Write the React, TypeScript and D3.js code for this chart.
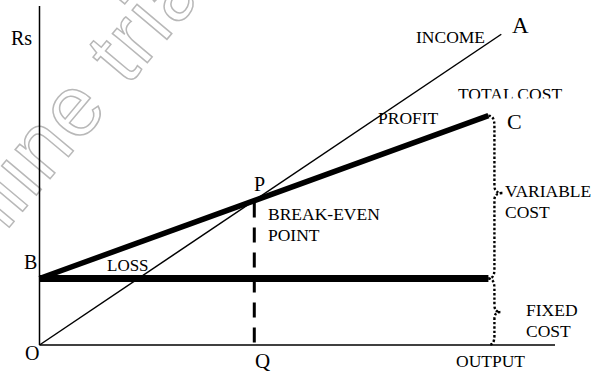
import * as d3 from 'd3';
import { useRef, useEffect } from 'react';

// break-even chart values (output units on x, Rs on y)
const outputDomain = [0, 120];
const rsDomain = [0, 102];
const incomeLine: [number, number][] = [[0, 0], [107.5, 93.5]];
const totalCostLine: [number, number][] = [[0, 20], [104.5, 69]];
const fixedCostLine: [number, number][] = [[0, 20], [104.5, 20]];
const breakEven: [number, number] = [50, 43.5];

export default function App() {
  const ref = useRef<SVGSVGElement>(null);

  useEffect(() => {
    const width = 593;
    const height = 373;
    const margin = { top: 6, right: 38, bottom: 28, left: 39.5 };

    const x = d3.scaleLinear()
      .domain(outputDomain)
      .range([margin.left, width - margin.right]);

    const y = d3.scaleLinear()
      .domain(rsDomain)
      .range([height - margin.bottom, margin.top]);

    const svg = d3.select(ref.current)
      .attr('width', width)
      .attr('height', height)
      .attr('viewBox', `0 0 ${width} ${height}`)
      .style('font-family', "'Liberation Serif', serif");

    svg.selectAll('*').remove();

    svg.append('rect').attr('width', width).attr('height', height).attr('fill', '#fff');

    // watermark (outlined, runs off the top-left corner like the original)
    svg.append('text')
      .attr('transform', 'translate(-45,292) rotate(-50)')
      .attr('font-family', "'Liberation Sans', sans-serif")
      .attr('font-size', 86)
      .attr('letter-spacing', 2)
      .attr('fill', 'none')
      .attr('stroke', '#b8b8b8')
      .attr('stroke-width', 1.5)
      .text('online trial');

    const line = d3.line<[number, number]>()
      .x(d => x(d[0]))
      .y(d => y(d[1]));

    // axes
    svg.append('line')
      .attr('x1', x(0)).attr('x2', x(0))
      .attr('y1', y(0)).attr('y2', y(rsDomain[1]))
      .attr('stroke', '#000').attr('stroke-width', 1.5);
    svg.append('line')
      .attr('x1', x(0)).attr('x2', x(outputDomain[1]))
      .attr('y1', y(0)).attr('y2', y(0))
      .attr('stroke', '#000').attr('stroke-width', 1.5);

    // income, total cost, fixed cost
    svg.append('path').attr('d', line(incomeLine))
      .attr('fill', 'none').attr('stroke', '#000').attr('stroke-width', 1.5);
    svg.append('path').attr('d', line(totalCostLine))
      .attr('fill', 'none').attr('stroke', '#000').attr('stroke-width', 5.5);
    svg.append('path').attr('d', line(fixedCostLine))
      .attr('fill', 'none').attr('stroke', '#000').attr('stroke-width', 7);

    // break-even drop line
    svg.append('line')
      .attr('x1', x(breakEven[0])).attr('x2', x(breakEven[0]))
      .attr('y1', y(breakEven[1]) + 2).attr('y2', y(0))
      .attr('stroke', '#000').attr('stroke-width', 3)
      .attr('stroke-dasharray', '15,10');

    // dotted braces
    const brace = (bx: number, top: number, bot: number, tip: number, w: number) => {
      const p = d3.path();
      const v = bx + 6;
      p.moveTo(bx, top);
      p.quadraticCurveTo(v, top, v, top + 10);
      p.lineTo(v, tip - 7);
      p.quadraticCurveTo(v, tip, v + w, tip);
      p.moveTo(v + w, tip);
      p.quadraticCurveTo(v, tip, v, tip + 7);
      p.lineTo(v, bot - 9);
      p.quadraticCurveTo(v, bot, bx, bot);
      return p.toString();
    };
    const bx = x(totalCostLine[1][0]);
    svg.append('path')
      .attr('d', brace(bx, y(totalCostLine[1][1]), y(fixedCostLine[1][1]), 193, 8))
      .attr('fill', 'none').attr('stroke', '#000').attr('stroke-width', 2.4)
      .attr('stroke-dasharray', '2.4,2');
    svg.append('path')
      .attr('d', brace(bx, y(fixedCostLine[1][1]), y(0), 312, 6))
      .attr('fill', 'none').attr('stroke', '#000').attr('stroke-width', 2.4)
      .attr('stroke-dasharray', '2.4,2');

    // clip for the partly hidden TOTAL COST label
    svg.append('clipPath').attr('id', 'tc-clip')
      .append('rect').attr('x', 0).attr('y', 0).attr('width', width).attr('height', 98.5);

    const labels: [string, number, number, number][] = [
      ['Rs', 11, 45, 20],
      ['INCOME', 416, 43, 17.5],
      ['A', 512, 33, 23],
      ['PROFIT', 378, 124, 17.5],
      ['C', 507, 129, 22],
      ['P', 254, 191, 20],
      ['BREAK-EVEN', 268, 220, 17.5],
      ['POINT', 268, 241, 17.5],
      ['VARIABLE', 505, 197, 17.5],
      ['COST', 505, 218, 17.5],
      ['B', 24, 269, 20],
      ['LOSS', 107, 271, 17],
      ['FIXED', 526, 316, 17.5],
      ['COST', 526, 337, 17.5],
      ['O', 25, 360, 20],
      ['Q', 255, 368, 21],
      ['OUTPUT', 456, 367, 17.5],
    ];

    svg.selectAll('text.lbl')
      .data(labels)
      .join('text')
      .attr('class', 'lbl')
      .attr('x', d => d[1])
      .attr('y', d => d[2])
      .attr('font-size', d => d[3])
      .attr('fill', '#000')
      .text(d => d[0]);

    svg.append('text')
      .attr('x', 458).attr('y', 100)
      .attr('font-size', 17.5)
      .attr('clip-path', 'url(#tc-clip)')
      .text('TOTAL COST');
  }, []);

  return (
    <div style={{ position: 'absolute', left: 0, top: 0 }}>
      <svg ref={ref}></svg>
    </div>
  );
}
